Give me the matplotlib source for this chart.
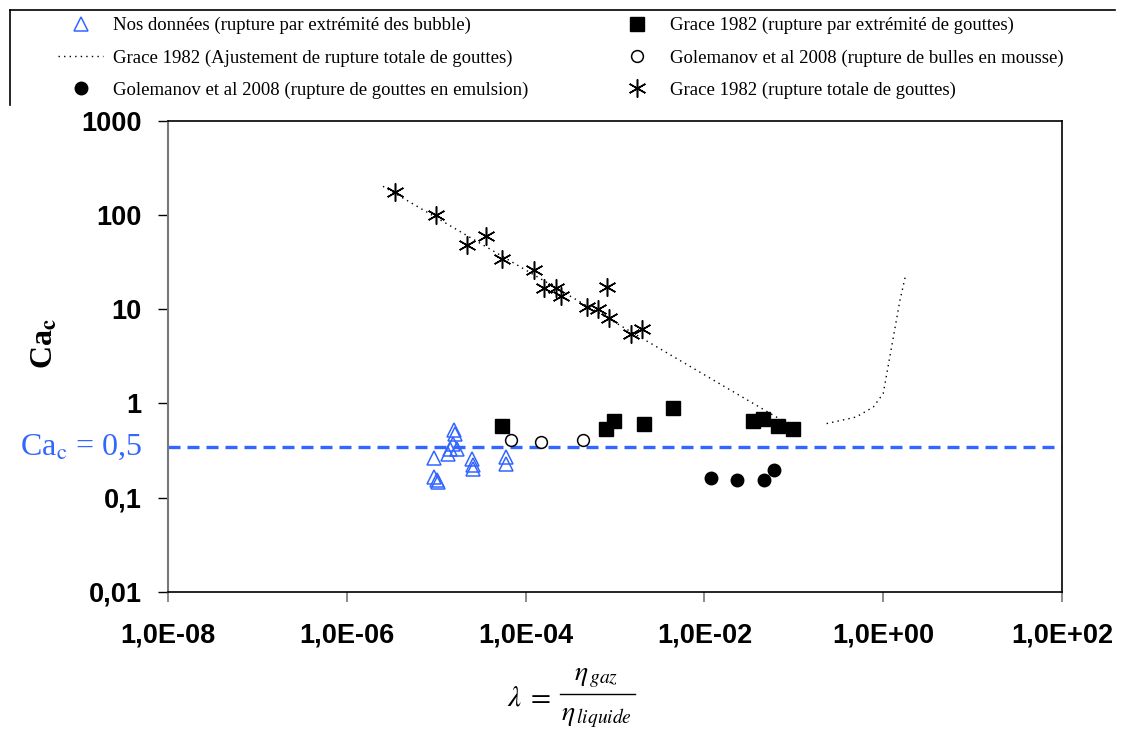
import matplotlib
matplotlib.use("Agg")
import matplotlib.pyplot as plt
from matplotlib.lines import Line2D
import numpy as np

plt.rcParams['mathtext.fontset'] = 'stix'

# ---------------- data ----------------
# Nos données (triangles)
nos_x = [9.5e-6, 1.01e-5, 9.5e-6, 1.05e-5, 1.37e-5, 1.43e-5, 1.55e-5, 1.62e-5, 1.6e-5,
         1.70e-5, 2.5e-5, 2.56e-5, 2.56e-5, 6.0e-5, 6.0e-5]
nos_y = [0.262, 0.152, 0.165, 0.146, 0.292, 0.330, 0.373, 0.477, 0.517,
         0.330, 0.259, 0.220, 0.203, 0.269, 0.229]

# Grace 1982 rupture par extrémité (filled squares)
gsq_x = [5.4e-5, 7.9e-4, 9.8e-4, 2.1e-3, 4.4e-3, 0.0347, 0.0447, 0.067, 0.098]
gsq_y = [0.574, 0.53, 0.644, 0.61, 0.90, 0.644, 0.676, 0.57, 0.54]

# Golemanov 2008 mousse (open circles)
gom_x = [6.8e-5, 1.48e-4, 4.4e-4]
gom_y = [0.41, 0.389, 0.41]

# Golemanov 2008 emulsion (filled circles)
goe_x = [0.0119, 0.0229, 0.046, 0.060]
goe_y = [0.163, 0.155, 0.155, 0.194]

# Grace 1982 rupture totale (asterisks)
gta_x = [3.5e-6, 1.0e-5, 2.2e-5, 3.6e-5, 5.4e-5, 1.23e-4, 1.6e-4, 2.2e-4, 2.5e-4,
         4.8e-4, 6.4e-4, 8.1e-4, 8.5e-4, 1.5e-3, 2.0e-3]
gta_y = [175, 99, 47.6, 60, 34, 26, 16.7, 16.7, 13.7,
         10.5, 9.95, 17.2, 8.1, 5.4, 6.2]

# Grace 1982 fit (dotted curve)
fit_x = [2.54e-6, 0.0738, np.nan, 0.233, 0.50, 0.776, 1.0, 1.14, 1.30, 1.54, 1.79]
fit_y = [201, 0.66, np.nan, 0.609, 0.716, 0.914, 1.27, 2.53, 5.06, 12.4, 23.4]

ca_crit = 0.34

x_ticks = [1e-8, 1e-6, 1e-4, 1e-2, 1e0, 1e2]
x_tick_labels = ["1,0E-08", "1,0E-06", "1,0E-04", "1,0E-02", "1,0E+00", "1,0E+02"]
y_ticks = [0.01, 0.1, 1, 10, 100, 1000]
y_tick_labels = ["0,01", "0,1", "1", "10", "100", "1000"]

labels = ["Nos données (rupture par extrémité des bubble)",
          "Grace 1982 (Ajustement de rupture totale de gouttes)",
          "Golemanov et al 2008 (rupture de gouttes en emulsion)",
          "Grace 1982 (rupture par extrémité de gouttes)",
          "Golemanov et al 2008 (rupture de bulles en mousse)",
          "Grace 1982 (rupture totale de gouttes)"]

blue = '#3366FF'

# ---------------- figure ----------------
fig = plt.figure(figsize=(11.22, 7.33), dpi=100)
ax = fig.add_axes([168/1122, 1 - 591.7/733, (1062-168)/1122, (591.7-120.7)/733])
ax.set_xscale('log')
ax.set_yscale('log')
ax.set_xlim(1e-8, 1e2)
ax.set_ylim(0.01, 1000)

ax.axhline(ca_crit, color=blue, lw=2.4, dashes=(3.6, 2.1), zorder=1)

h_fit, = ax.plot(fit_x, fit_y, color='black', lw=1.0, linestyle=(0, (1, 3)), zorder=2)
h_nos, = ax.plot(nos_x, nos_y, linestyle='none', marker='^', ms=9.5, mfc='none',
                 mec=blue, mew=1.1, zorder=3)
h_gsq, = ax.plot(gsq_x, gsq_y, linestyle='none', marker='s', ms=9.5, color='black', zorder=3)
h_gom, = ax.plot(gom_x, gom_y, linestyle='none', marker='o', ms=8.5, mfc='white',
                 mec='black', mew=1.1, zorder=3)
h_goe, = ax.plot(goe_x, goe_y, linestyle='none', marker='o', ms=9, color='black', zorder=3)
h_gta, = ax.plot(gta_x, gta_y, linestyle='none', marker=(6, 2, 0), ms=13, color='black',
                 mew=1.1, zorder=3)

ax.xaxis.set_minor_locator(matplotlib.ticker.NullLocator())
ax.yaxis.set_minor_locator(matplotlib.ticker.NullLocator())
ax.set_xticks(x_ticks)
ax.set_xticklabels(x_tick_labels)
ax.set_yticks(y_ticks)
ax.set_yticklabels(y_tick_labels)
for lab in ax.get_xticklabels() + ax.get_yticklabels():
    lab.set_fontfamily('Liberation Sans')
    lab.set_fontweight('bold')
    lab.set_fontsize(19.5)
ax.tick_params(axis='x', direction='out', length=7, width=1.2, color='#777777', pad=15)
ax.tick_params(axis='y', direction='out', length=7, width=1.0, color='black', pad=12)
ax.spines['left'].set_color('#777777')
ax.spines['left'].set_linewidth(1.5)
for s in ['top', 'right', 'bottom']:
    ax.spines[s].set_color('black')
    ax.spines[s].set_linewidth(1.2)

# Ca_c = 0,5 label
ax.text(-0.029, ca_crit, r'Ca$_{\rm c}$ = 0,5', transform=ax.get_yaxis_transform(),
        ha='right', va='center', color=blue, fontsize=23, family='Liberation Serif')

# y axis label
fig.text(45/1122, 1 - 343/733, r'Ca$_{\mathbf{c}}$', rotation=90, ha='center', va='center',
         fontsize=23, fontweight='bold', family='Liberation Serif')

# x axis label: lambda = eta_gaz / eta_liquide (built as a display fraction)
W, H = 1122.0, 733.0
fig.text(529/W, 1 - 698/H, r'$\lambda\;=$', ha='center', va='center', fontsize=21)
fig.text(596/W, 1 - 676/H, r'$\eta_{\,gaz}$', ha='center', va='center', fontsize=20)
fig.text(596/W, 1 - 716/H, r'$\eta_{\,liquide}$', ha='center', va='center', fontsize=20)
fig.add_artist(Line2D([560/W, 635/W], [1 - 694/H, 1 - 694/H],
                      transform=fig.transFigure, color='black', lw=1.0))

# legend
handles = [h_nos, h_fit, h_goe, h_gsq, h_gom, h_gta]
leg = fig.legend(handles, labels, ncol=2, loc='upper left',
                 bbox_to_anchor=(58/1122, 1 - 17/733), frameon=False,
                 prop={'family': 'Liberation Serif', 'size': 13.5},
                 handlelength=2.4, handletextpad=0.53, columnspacing=4.6,
                 labelspacing=0.8, borderpad=0, borderaxespad=0, numpoints=1)

# legend box edges (top and left only)
fig.add_artist(Line2D([10/1122, 1115/1122], [1 - 10/733, 1 - 10/733],
                      transform=fig.transFigure, color='black', lw=1.2))
fig.add_artist(Line2D([10/1122, 10/1122], [1 - 10/733, 1 - 105/733],
                      transform=fig.transFigure, color='black', lw=1.2))

fig.savefig('out.png', dpi=100)
